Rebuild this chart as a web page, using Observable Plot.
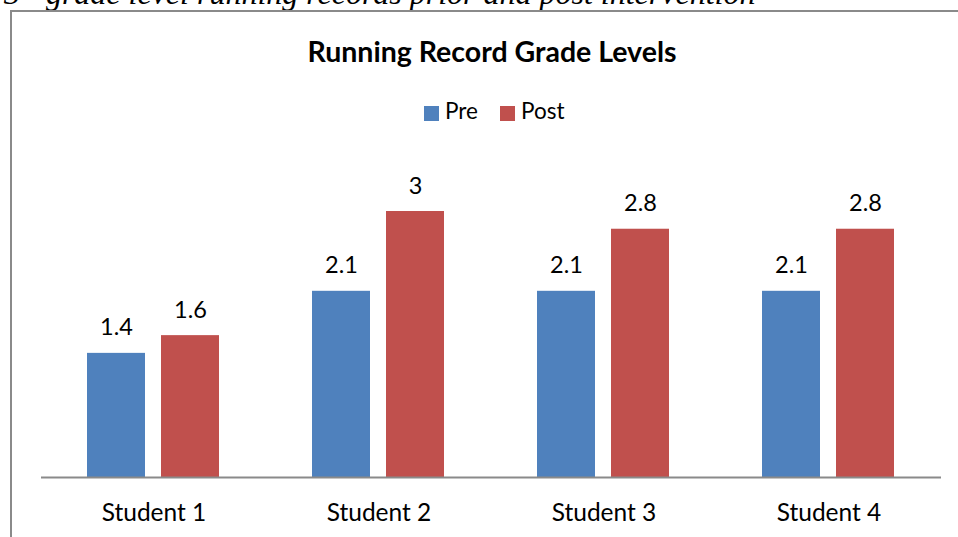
<!DOCTYPE html>
<html>
<head>
<meta charset="utf-8">
<script src="https://cdn.jsdelivr.net/npm/d3@7"></script>
<script src="https://cdn.jsdelivr.net/npm/@observablehq/plot@0.6"></script>
<style>
  html, body { margin: 0; padding: 0; background: #fff; }
  #wrap { position: relative; width: 958px; height: 537px; overflow: hidden; background: #fff; }
  #frame { position: absolute; left: 10px; top: 10px; width: 1000px; height: 600px;
           border-left: 2px solid #8a8a8a; border-top: 2px solid #8a8a8a; box-sizing: border-box; }
  #caption { position: absolute; left: 0; top: 0; }
  #title { position: absolute; left: 11px; width: 962px; top: 37px; text-align: center;
           font-family: Lato, sans-serif; font-weight: bold; font-size: 28.5px; line-height: 28.5px; color: #000; }
  .sw { position: absolute; width: 15px; height: 15px; top: 106px; }
  .lt { position: absolute; top: 100px; font-family: Lato, sans-serif; font-size: 22.5px; line-height: 22.5px; color: #000; }
  #plot { position: absolute; left: 0; top: 0; }
</style>
</head>
<body>
<div id="wrap">
  <svg id="caption" width="958" height="14">
    <text x="4" y="4" font-family="Liberation Serif, Times New Roman, serif" font-style="italic" font-size="32" fill="#000">3<tspan font-size="21" dy="-11">rd</tspan><tspan dy="11"> grade level running records prior and post intervention</tspan></text>
  </svg>
  <div id="frame"></div>
  <div id="title"></div>
  <div id="legend"></div>
  <div id="plot"></div>
</div>
<script>
const students = ["Student 1", "Student 2", "Student 3", "Student 4"];
const seriesNames = ["Pre", "Post"];
const preValues = [1.4, 2.1, 2.1, 2.1];
const postValues = [1.6, 3, 2.8, 2.8];
const seriesColors = ["#4F81BD", "#C0504D"];
const chartTitle = "Running Record Grade Levels";

document.getElementById("title").textContent = chartTitle;

// legend
const legend = document.getElementById("legend");
const legendPos = [{sw: 424, tx: 445}, {sw: 500, tx: 521}];
seriesNames.forEach((name, i) => {
  const sw = document.createElement("div");
  sw.className = "sw";
  sw.style.left = legendPos[i].sw + "px";
  sw.style.background = seriesColors[i];
  legend.appendChild(sw);
  const t = document.createElement("div");
  t.className = "lt";
  t.style.left = legendPos[i].tx + "px";
  t.textContent = name;
  legend.appendChild(t);
});

const table = students.flatMap((s, i) => [
  {student: s, series: seriesNames[0], value: preValues[i]},
  {student: s, series: seriesNames[1], value: postValues[i]}
]);

const chart = Plot.plot({
  width: 958,
  height: 537,
  marginLeft: 40,
  marginRight: 17,
  marginTop: 20,
  marginBottom: 60,
  style: {fontFamily: "Lato, sans-serif", fontSize: "24.5px", color: "#000", background: "transparent"},
  fx: {domain: students, padding: 0, axis: "bottom", tickSize: 0, tickPadding: 26, label: null},
  x: {domain: seriesNames, paddingInner: 0.2133, paddingOuter: 0.6067, axis: null},
  y: {domain: [0, 3], range: [477, 211], axis: null},
  color: {domain: seriesNames, range: seriesColors},
  marks: [
    Plot.barY(table, {fx: "student", x: "series", y: "value", fill: "series"}),
    Plot.ruleY([0], {stroke: "#8a8a8a", strokeWidth: 2}),
    Plot.text(table, {fx: "student", x: "series", y: "value", text: d => String(d.value),
      lineAnchor: "bottom", dy: -18, fontSize: 23.5, fill: "#000"})
  ]
});
document.getElementById("plot").appendChild(chart);
</script>
</body>
</html>
